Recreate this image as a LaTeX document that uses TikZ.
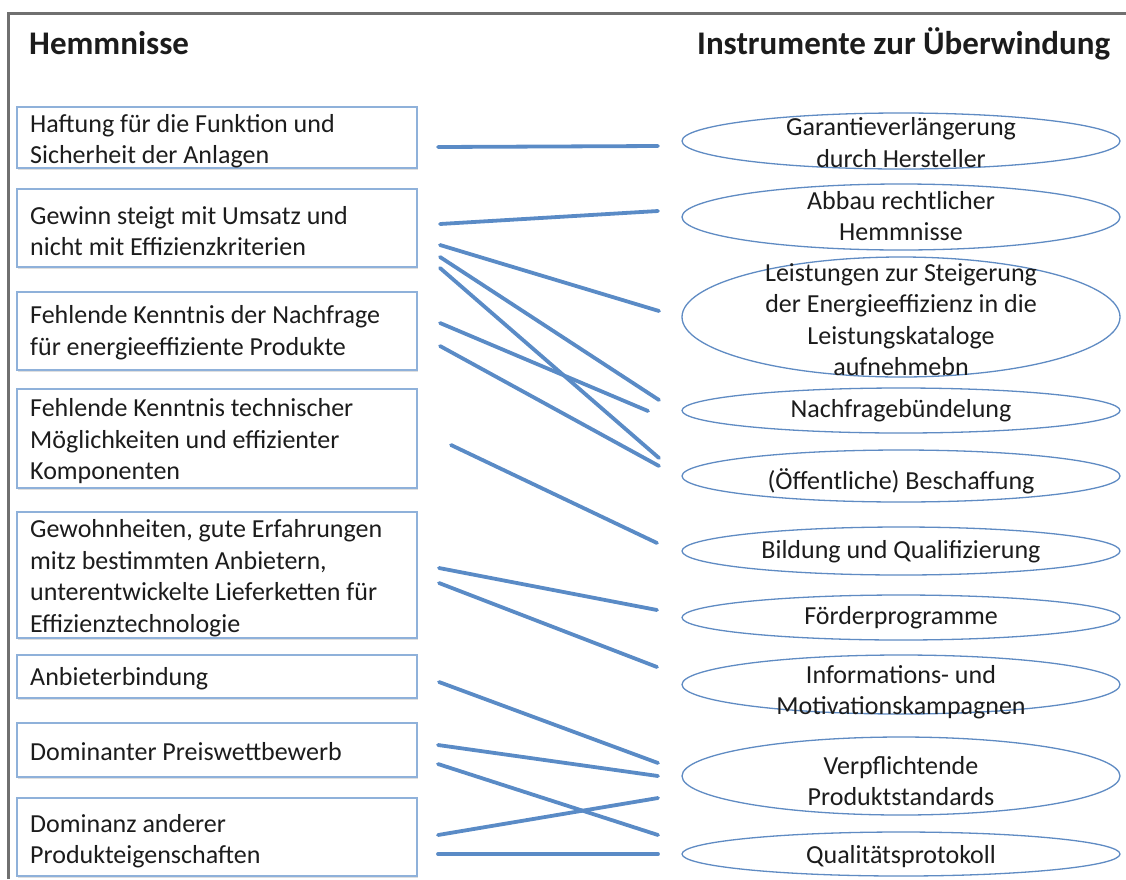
\documentclass[tikz,border=0pt]{standalone}
\usepackage{fontspec}
\setmainfont{Carlito}
\usetikzlibrary{shapes.geometric,shadows}

\definecolor{framegray}{HTML}{707070}
\definecolor{boxblue}{HTML}{8FB1DA}
\definecolor{ellblue}{HTML}{5F8BC3}
\definecolor{linkblue}{HTML}{5A8BC6}
\definecolor{ink}{HTML}{1C1C1C}

\tikzset{
  box/.style={draw=boxblue, line width=1.6pt, fill=white, inner sep=0pt,
    minimum width=400pt, rectangle,
    drop shadow={shadow xshift=0.8pt, shadow yshift=-1.6pt, opacity=0.25}},
  ell/.style={ellipse, draw=ellblue, line width=1.3pt, fill=white,
    inner sep=0pt, minimum width=438pt},
  ltext/.style={anchor=west, align=left, inner sep=0pt, text=ink,
    font=\fontsize{26}{31.5}\selectfont},
  rtext/.style={anchor=center, align=center, inner sep=0pt, text=ink,
    font=\fontsize{26}{31.5}\selectfont},
  head/.style={anchor=base west, inner sep=0pt, text=ink,
    font=\fontsize{33}{38}\selectfont\bfseries},
  link/.style={draw=linkblue, line width=3.8pt, line cap=round}
}

\begin{document}
\begin{tikzpicture}[x=1pt, y=-1pt]
\useasboundingbox (0,0) rectangle (1126,879);

% outer frame (left and top edges)
\draw[framegray, line width=3pt] (8.5,879) -- (8.5,13) -- (1126,13);

% column headings
\node[head] (hl) at (29,54) {Hemmnisse};
\node[head] (hr) at (697,54) {Instrumente zur Überwindung};

% obstacles
\node[box, minimum height=61pt] (h1) at (217,137.5) {};
\node[box, minimum height=78pt] (h2) at (217,228) {};
\node[box, minimum height=78pt] (h3) at (217,331) {};
\node[box, minimum height=99pt] (h4) at (217,438.5) {};
\node[box, minimum height=126pt] (h5) at (217,575) {};
\node[box, minimum height=43pt] (h6) at (217,676.5) {};
\node[box, minimum height=54pt] (h7) at (217,750) {};
\node[box, minimum height=78pt] (h8) at (217,837) {};

\node[ltext] (t1) at (30,141) {Haftung für die Funktion und\\Sicherheit der Anlagen};
\node[ltext] (t2) at (30,231) {Gewinn steigt mit Umsatz und\\nicht mit Effizienzkriterien};
\node[ltext] (t3) at (30,332.5) {Fehlende Kenntnis der Nachfrage\\für energieeffiziente Produkte};
\node[ltext] (t4) at (30,441.5) {Fehlende Kenntnis technischer\\Möglichkeiten und effizienter\\Komponenten};
\node[ltext] (t5) at (30,578) {Gewohnheiten, gute Erfahrungen\\mitz bestimmten Anbietern,\\unterentwickelte Lieferketten für\\Effizienztechnologie};
\node[ltext] (t6) at (30,679) {Anbieterbindung};
\node[ltext] (t7) at (30,752) {Dominanter Preiswettbewerb};
\node[ltext] (t8) at (30,841) {Dominanz anderer\\Produkteigenschaften};

% instruments
\node[ell, minimum height=56pt] (i1) at (901,141) {};
\node[ell, minimum height=66pt] (i2) at (901,217) {};
\node[ell, minimum height=120pt] (i3) at (901,317) {};
\node[ell, minimum height=45pt] (i4) at (901,410.5) {};
\node[ell, minimum height=52pt] (i5) at (901,476) {};
\node[ell, minimum height=48pt] (i6) at (901,551) {};
\node[ell, minimum height=45pt] (i7) at (901,617.5) {};
\node[ell, minimum height=59pt] (i8) at (901,684.5) {};
\node[ell, minimum height=78pt] (i9) at (901,776) {};
\node[ell, minimum height=44pt] (i10) at (901,854) {};

\node[rtext] (s1) at (901,142.5) {Garantieverlängerung\\durch Hersteller};
\node[rtext] (s2) at (901,216) {Abbau rechtlicher\\Hemmnisse};
\node[rtext] (s3) at (901,319.5) {Leistungen zur Steigerung\\der Energieeffizienz in die\\Leistungskataloge\\aufnehmebn};
\node[rtext] (s4) at (901,411) {Nachfragebündelung};
\node[rtext] (s5) at (901,481) {(Öffentliche) Beschaffung};
\node[rtext] (s6) at (901,552) {Bildung und Qualifizierung};
\node[rtext] (s7) at (901,618) {Förderprogramme};
\node[rtext] (s8) at (901,692) {Informations- und\\Motivationskampagnen};
\node[rtext] (s9) at (901,781) {Verpflichtende\\Produktstandards};
\node[rtext] (s10) at (901,857) {Qualitätsprotokoll};

% connector end points
\coordinate (a1) at (438,147);   \coordinate (b1) at (658,146);
\coordinate (a2) at (440,224);   \coordinate (b2) at (658,211);
\coordinate (a3) at (440,245);   \coordinate (b3) at (659,311);
\coordinate (a4) at (440,257);   \coordinate (b4) at (659,400);
\coordinate (a5) at (440,268);   \coordinate (b5) at (659,458);
\coordinate (a6) at (440,323);   \coordinate (b6) at (648,411);
\coordinate (a7) at (440,346);   \coordinate (b7) at (659,466);
\coordinate (a8) at (451,445);   \coordinate (b8) at (657,543);
\coordinate (a9) at (439,568);   \coordinate (b9) at (657,610);
\coordinate (a10) at (439,583);  \coordinate (b10) at (657,667);
\coordinate (a11) at (439,682);  \coordinate (b11) at (658,763);
\coordinate (a12) at (438,745);  \coordinate (b12) at (658,776);
\coordinate (a13) at (438,764);  \coordinate (b13) at (658,835);
\coordinate (a14) at (438,835);  \coordinate (b14) at (658,798);
\coordinate (a15) at (438,854);  \coordinate (b15) at (658,854);

% connectors
\foreach \k in {1,...,15} {
  \draw[link] (a\k) -- (b\k);
}
\end{tikzpicture}
\end{document}
